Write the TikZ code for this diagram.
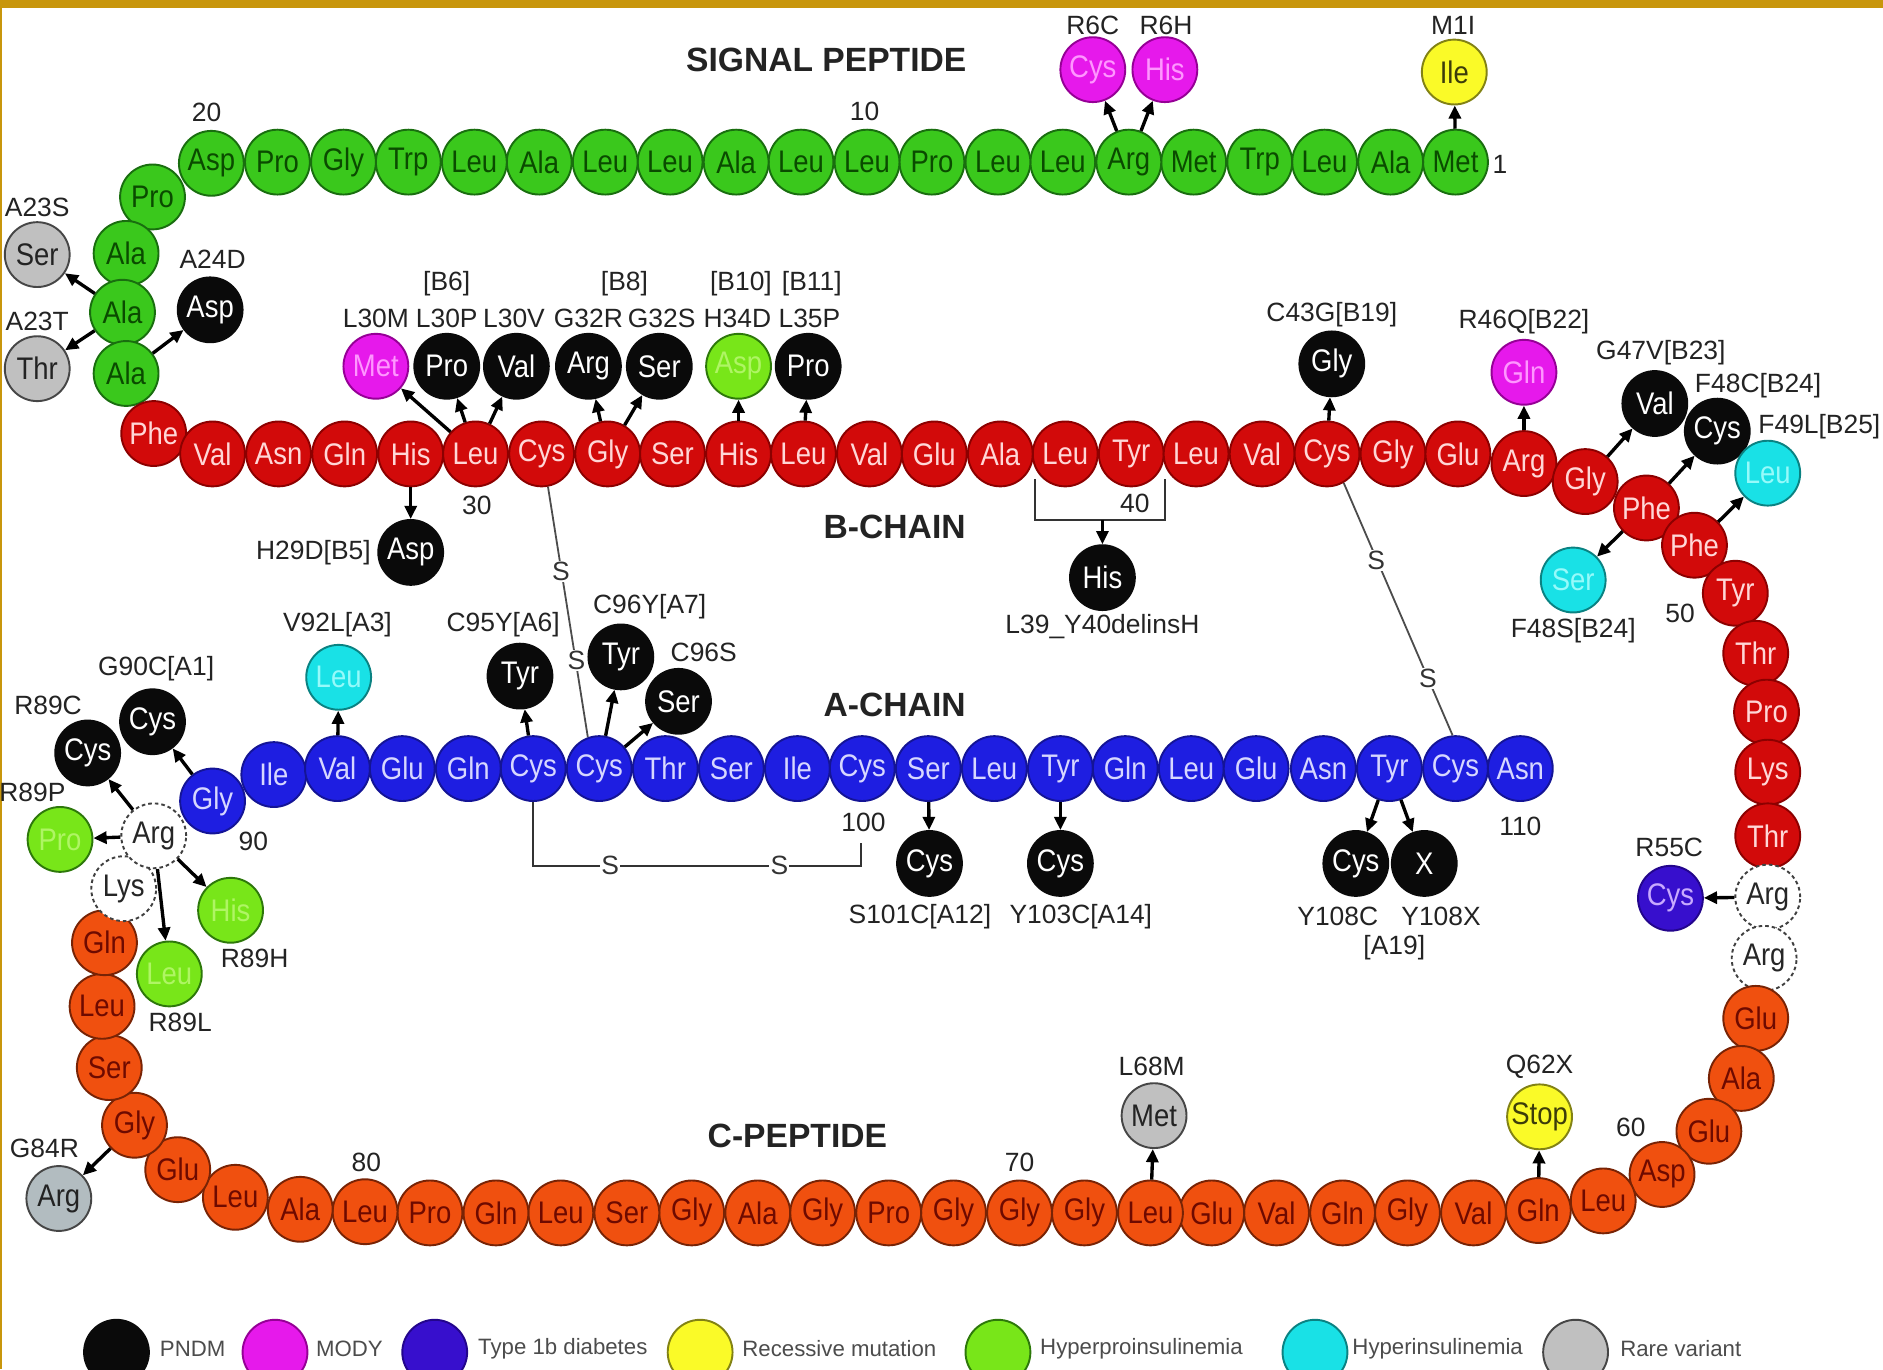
\documentclass[tikz,border=0pt]{standalone}
\usepackage{fontspec}
\setmainfont{Liberation Sans}
\newfontfamily\aafnt[FakeStretch=0.88]{Liberation Sans}
\usetikzlibrary{arrows.meta}
\definecolor{ochre}{RGB}{200,150,12}
\definecolor{sigG}{RGB}{58,200,28}
\definecolor{sigD}{RGB}{25,110,15}
\definecolor{sigT}{RGB}{10,75,0}
\definecolor{bR}{RGB}{210,10,10}
\definecolor{bRD}{RGB}{140,0,0}
\definecolor{bT}{RGB}{255,215,215}
\definecolor{cO}{RGB}{240,80,15}
\definecolor{cOD}{RGB}{120,35,5}
\definecolor{cT}{RGB}{110,10,0}
\definecolor{aB}{RGB}{30,30,225}
\definecolor{aBD}{RGB}{20,20,150}
\definecolor{aT}{RGB}{215,215,255}
\definecolor{pk}{RGB}{10,10,10}
\definecolor{mg}{RGB}{230,25,235}
\definecolor{mgD}{RGB}{150,0,150}
\definecolor{mgT}{RGB}{255,150,255}
\definecolor{ind}{RGB}{55,15,205}
\definecolor{indD}{RGB}{35,5,140}
\definecolor{indT}{RGB}{200,170,255}
\definecolor{yl}{RGB}{250,250,40}
\definecolor{ylD}{RGB}{130,130,20}
\definecolor{ylT}{RGB}{60,60,10}
\definecolor{lm}{RGB}{120,230,25}
\definecolor{lmD}{RGB}{45,120,10}
\definecolor{lmT}{RGB}{175,245,100}
\definecolor{cy}{RGB}{25,225,230}
\definecolor{cyD}{RGB}{10,130,130}
\definecolor{cyT}{RGB}{150,250,250}
\definecolor{gr}{RGB}{192,192,192}
\definecolor{grD}{RGB}{70,70,70}
\definecolor{grT}{RGB}{35,35,35}
\definecolor{grB}{RGB}{178,188,192}
\definecolor{lbl}{RGB}{35,35,35}
\tikzset{
  res/.style={circle, minimum size=54pt, inner sep=0pt, line width=1.6pt, font=\aafnt\fontsize{26}{26}\selectfont},
  sig/.style={res, fill=sigG, draw=sigD, text=sigT},
  bch/.style={res, fill=bR, draw=bRD, text=bT},
  cpep/.style={res, fill=cO, draw=cOD, text=cT},
  ach/.style={res, fill=aB, draw=aBD, text=aT},
  dres/.style={res, fill=white, draw=black!75, dash pattern=on 3pt off 2.5pt, text=black!85},
  pndm/.style={res, fill=pk, draw=pk, text=white},
  mody/.style={res, fill=mg, draw=mgD, text=mgT},
  tib/.style={res, fill=ind, draw=indD, text=indT},
  recm/.style={res, fill=yl, draw=ylD, text=ylT},
  hpi/.style={res, fill=lm, draw=lmD, text=lmT},
  hin/.style={res, fill=cy, draw=cyD, text=cyT},
  rare/.style={res, fill=gr, draw=grD, text=grT},
  lab/.style={font=\fontsize{22}{22}\selectfont, text=lbl, inner sep=0pt},
  ttl/.style={font=\bfseries\fontsize{28}{28}\selectfont, text=lbl, inner sep=0pt},
  mut/.style={draw=black, line width=2.8pt, -{Triangle[length=11pt,width=10pt]}},
  ss/.style={draw=black!70, line width=1.5pt},
  sl/.style={font=\fontsize{22}{22}\selectfont, text=black!80, fill=white, inner sep=1pt},
  legc/.style={circle, minimum size=54pt, inner sep=0pt, line width=1.6pt},
  legt/.style={font=\fontsize{18.5}{18.5}\selectfont, text=black!70, anchor=west, inner sep=0pt},
}
\begin{document}
\begin{tikzpicture}[x=1pt,y=-1pt]
\useasboundingbox (0,0) rectangle (1568,1140);
\clip (0,0) rectangle (1568,1140);
\fill[white] (0,0) rectangle (1568,1140);
\fill[ochre] (0,0) rectangle (1568,7);
\fill[ochre] (0,0) rectangle (1.6,1140);

\coordinate (k1) at (444,721);
\coordinate (k2) at (717,702);
\coordinate (bl) at (862,399);
\coordinate (br) at (970,399);
\coordinate (bm) at (918,433);

% signal peptide
\foreach \n/\x/\y/\t in {1/1212/135/Met,2/1158/135/Ala,3/1103/135/Leu,4/1049/135/Trp,5/994/135/Met,6/940/135/Arg,7/885/135/Leu,8/831/135/Leu,9/776/135/Pro,10/722/135/Leu,11/667/135/Leu,12/613/135/Ala,13/558/135/Leu,14/504/135/Leu,15/449/135/Ala,16/395/135/Leu,17/340/135/Trp,18/286/135/Gly,19/231/135/Pro,20/176/136/Asp,21/127/164/Pro,22/105/211/Ala,23/102/260/Ala,24/105/311/Ala}
  \node[sig] (r\n) at (\x,\y) {\t};
% B chain
\foreach \n/\x/\y/\t in {25/128/361/Phe,26/177/378/Val,27/232/378/Asn,28/287/378/Gln,29/342/378/His,30/396/378/Leu,31/451/378/Cys,32/506/378/Gly,33/560/378/Ser,34/615/378/His,35/669/378/Leu,36/724/378/Val,37/778/378/Glu,38/833/378/Ala,39/887/378/Leu,40/942/378/Tyr,41/996/378/Leu,42/1051/378/Val,43/1105/378/Cys,44/1160/378/Gly,45/1214/378/Glu,46/1269/386/Arg,47/1320/401/Gly,48/1371/423/Phe,49/1411/454/Phe,50/1445/494/Tyr,51/1462/544/Thr,52/1471/593/Pro,53/1472/643/Lys,54/1472/696/Thr}
  \node[bch] (r\n) at (\x,\y) {\t};
\node[dres] (r55) at (1472,747) {Arg};
\node[dres] (r56) at (1469,798) {Arg};
% C peptide
\foreach \n/\x/\y/\t in {57/1462/848/Glu,58/1450/898/Ala,59/1423/942/Glu,60/1384/978/Asp,61/1335/1000/Leu,62/1281/1008/Gln,63/1227/1010/Val,64/1172/1010/Gly,65/1118/1010/Gln,66/1063/1010/Val,67/1009/1010/Glu,68/958/1010/Leu,69/903/1010/Gly,70/849/1010/Gly,71/794/1010/Gly,72/740/1010/Pro,73/685/1010/Gly,74/631/1010/Ala,75/576/1010/Gly,76/522/1010/Ser,77/467/1010/Leu,78/413/1010/Gln,79/358/1010/Pro,80/304/1009/Leu,81/250/1007/Ala,82/196/997/Leu,83/148/974/Glu,84/112/937/Gly,85/91/889/Ser,86/85/838/Leu,87/87/785/Gln}
  \node[cpep] (r\n) at (\x,\y) {\t};
\node[dres] (r88) at (103,740) {Lys};
\node[dres] (r89) at (128,696) {Arg};
% A chain
\foreach \n/\x/\y/\t in {90/177/667/Gly,91/228/645/Ile,92/281/640/Val,93/335/640/Glu,94/390/640/Gln,95/444/640/Cys,96/499/640/Cys,97/554/640/Thr,98/609/640/Ser,99/664/640/Ile,100/718/640/Cys,101/773/640/Ser,102/828/640/Leu,103/883/640/Tyr,104/937/640/Gln,105/992/640/Leu,106/1046/640/Glu,107/1102/640/Asn,108/1157/640/Tyr,109/1212/640/Cys,110/1266/640/Asn}
  \node[ach] (r\n) at (\x,\y) {\t};

% bonds
\draw[ss] (r31.-79) -- (r96.110);
\draw[ss] (r43.-60) -- (r109.95);
\draw[ss, draw=black!80] (r95) -- (k1) -| (k2);
\draw[ss, draw=black!80] (bl) |- (bm) -| (br);
\node[sl] (sa1) at (467,476) {S};
\node[sl] (sa2) at (480,550) {S};
\node[sl] (sb1) at (1146,467) {S};
\node[sl] (sb2) at (1189,565) {S};
\node[sl] (sc1) at (508,721) {S};
\node[sl] (sc2) at (649,721) {S};

% mutations
\node[recm] (m1i) at (1211,60) {Ile};
\node[mody] (m6c) at (910,58) {Cys};
\node[mody] (m6h) at (970,58) {His};
\node[rare] (m23s) at (31,212) {Ser};
\node[rare] (m23t) at (31,307) {Thr};
\node[pndm] (m24d) at (175,258) {Asp};
\node[mody] (m30m) at (313,305) {Met};
\node[pndm] (m30p) at (372,305) {Pro};
\node[pndm] (m30v) at (430,305) {Val};
\node[pndm] (m32r) at (490,305) {Arg};
\node[pndm] (m32s) at (549,305) {Ser};
\node[hpi] (m34d) at (615,305) {Asp};
\node[pndm] (m35p) at (673,305) {Pro};
\node[pndm] (m29d) at (342,460) {Asp};
\node[pndm] (m43g) at (1109,303) {Gly};
\node[mody] (m46q) at (1269,310) {Gln};
\node[pndm] (m47v) at (1378,336) {Val};
\node[pndm] (m48c) at (1430,359) {Cys};
\node[hin] (m49l) at (1472,394) {Leu};
\node[hin] (m48s) at (1310,483) {Ser};
\node[pndm] (mdel) at (918,481) {His};
\node[hin] (m92l) at (282,564) {Leu};
\node[pndm] (m95y) at (433,563) {Tyr};
\node[pndm] (m96y) at (517,547) {Tyr};
\node[pndm] (m96s) at (565,584) {Ser};
\node[pndm] (m90c) at (127,601) {Cys};
\node[pndm] (m89c) at (73,627) {Cys};
\node[hpi] (m89p) at (50,699) {Pro};
\node[hpi] (m89h) at (192,758) {His};
\node[hpi] (m89l) at (141,811) {Leu};
\node[pndm] (m101c) at (774,719) {Cys};
\node[pndm] (m103c) at (883,719) {Cys};
\node[pndm] (m108c) at (1129,719) {Cys};
\node[pndm] (m108x) at (1186,719) {X};
\node[tib] (m55c) at (1391,748) {Cys};
\node[recm] (m62x) at (1282,930) {Stop};
\node[rare] (m68m) at (961,929) {Met};
\node[rare, fill=grB] (m84r) at (49,998) {Arg};

% mutation arrows
\draw[mut] (r1) -- (m1i);
\draw[mut] (r6) -- (m6c);
\draw[mut] (r6) -- (m6h);
\draw[mut] (r23) -- (m23s);
\draw[mut] (r23) -- (m23t);
\draw[mut] (r24) -- (m24d);
\draw[mut] (r29) -- (m29d);
\draw[mut] (r30) -- (m30m);
\draw[mut] (r30) -- (m30p);
\draw[mut] (r30) -- (m30v);
\draw[mut] (r32) -- (m32r);
\draw[mut] (r32) -- (m32s);
\draw[mut] (r34) -- (m34d);
\draw[mut] (r35) -- (m35p);
\draw[mut] (r43) -- (m43g);
\draw[mut] (r46) -- (m46q);
\draw[mut] (r47) -- (m47v);
\draw[mut] (r48) -- (m48c);
\draw[mut] (r48) -- (m48s);
\draw[mut] (r49) -- (m49l);
\draw[mut] (bm) -- (mdel);
\draw[mut] (r55) -- (m55c);
\draw[mut] (r62) -- (m62x);
\draw[mut] (r68) -- (m68m);
\draw[mut] (r84) -- (m84r);
\draw[mut] (r89) -- (m89c);
\draw[mut] (r89) -- (m89p);
\draw[mut] (r89) -- (m89h);
\draw[mut] (r89) -- (m89l);
\draw[mut] (r90) -- (m90c);
\draw[mut] (r92) -- (m92l);
\draw[mut] (r95) -- (m95y);
\draw[mut] (r96) -- (m96y);
\draw[mut] (r96) -- (m96s);
\draw[mut] (r101) -- (m101c);
\draw[mut] (r103) -- (m103c);
\draw[mut] (r108) -- (m108c);
\draw[mut] (r108) -- (m108x);

% titles
\node[ttl] (tsig) at (688,50) {SIGNAL PEPTIDE};
\node[ttl] (tb) at (745,439) {B-CHAIN};
\node[ttl] (ta) at (745,587) {A-CHAIN};
\node[ttl] (tc) at (664,946) {C-PEPTIDE};

% numbers
\node[lab] (n20) at (172,94) {20};
\node[lab] (n10) at (720,93) {10};
\node[lab] (n1) at (1249,137) {1};
\node[lab] (n30) at (397,421) {30};
\node[lab] (n40) at (945,419) {40};
\node[lab] (n50) at (1399,511) {50};
\node[lab] (n60) at (1358,939) {60};
\node[lab] (n70) at (849,968) {70};
\node[lab] (n80) at (305,968) {80};
\node[lab] (n90) at (211,701) {90};
\node[lab] (n100) at (719,685) {100};
\node[lab] (n110) at (1266,688) {110};

% mutation labels
\node[lab] (tm1) at (1210,21) {M1I};
\node[lab] (tr6c) at (910,21) {R6C};
\node[lab] (tr6h) at (971,21) {R6H};
\node[lab] (ta23s) at (31,173) {A23S};
\node[lab] (ta23t) at (31,268) {A23T};
\node[lab] (ta24d) at (177,216) {A24D};
\node[lab] (tb6) at (372,236) {[B6]};
\node[lab] (tb8) at (520,236) {[B8]};
\node[lab] (tb10) at (617,236) {[B10]};
\node[lab] (tb11) at (676,236) {[B11]};
\node[lab] (tl30m) at (313,265) {L30M};
\node[lab] (tl30p) at (372,265) {L30P};
\node[lab] (tl30v) at (428,265) {L30V};
\node[lab] (tg32r) at (490,265) {G32R};
\node[lab] (tg32s) at (551,265) {G32S};
\node[lab] (th34d) at (614,265) {H34D};
\node[lab] (tl35p) at (674,265) {L35P};
\node[lab] (th29d) at (261,460) {H29D[B5]};
\node[lab] (tc43g) at (1109,262) {C43G[B19]};
\node[lab] (tr46q) at (1269,268) {R46Q[B22]};
\node[lab] (tg47v) at (1383,294) {G47V[B23]};
\node[lab] (tf48c) at (1464,321) {F48C[B24]};
\node[lab] (tf49l) at (1515,355) {F49L[B25]};
\node[lab] (tf48s) at (1310,525) {F48S[B24]};
\node[lab] (tdel) at (918,522) {L39\_Y40delinsH};
\node[lab] (tv92l) at (281,520) {V92L[A3]};
\node[lab] (tc95y) at (419,520) {C95Y[A6]};
\node[lab] (tc96y) at (541,505) {C96Y[A7]};
\node[lab] (tc96s) at (586,543) {C96S};
\node[lab] (tg90c) at (130,557) {G90C[A1]};
\node[lab] (tr89c) at (40,587) {R89C};
\node[lab] (tr89p) at (27,660) {R89P};
\node[lab] (tr89h) at (212,798) {R89H};
\node[lab] (tr89l) at (150,851) {R89L};
\node[lab] (ts101c) at (766,763) {S101C[A12]};
\node[lab] (ty103c) at (900,763) {Y103C[A14]};
\node[lab] (ty108c) at (1114,763) {Y108C};
\node[lab] (ty108x) at (1200,763) {Y108X};
\node[lab] (ta19) at (1161,789) {[A19]};
\node[lab] (tr55c) at (1390,706) {R55C};
\node[lab] (tq62x) at (1282,888) {Q62X};
\node[lab] (tl68m) at (959,888) {L68M};
\node[lab] (tg84r) at (37,956) {G84R};

% legend
\node[legc, fill=pk, draw=pk] (lg1) at (97,1126) {};
\node[legt] (lt1) at (133,1123) {PNDM};
\node[legc, fill=mg, draw=mgD] (lg2) at (229,1126) {};
\node[legt] (lt2) at (263,1123) {MODY};
\node[legc, fill=ind, draw=indD] (lg3) at (362,1126) {};
\node[legt] (lt3) at (398,1123) {Type 1b diabetes};
\node[legc, fill=yl, draw=ylD] (lg4) at (583,1126) {};
\node[legt] (lt4) at (618,1123) {Recessive mutation};
\node[legc, fill=lm, draw=lmD] (lg5) at (831,1126) {};
\node[legt] (lt5) at (866,1123) {Hyperproinsulinemia};
\node[legc, fill=cy, draw=cyD] (lg6) at (1095,1126) {};
\node[legt] (lt6) at (1126,1123) {Hyperinsulinemia};
\node[legc, fill=gr, draw=grD] (lg7) at (1312,1126) {};
\node[legt] (lt7) at (1349,1123) {Rare variant};
\end{tikzpicture}
\end{document}
